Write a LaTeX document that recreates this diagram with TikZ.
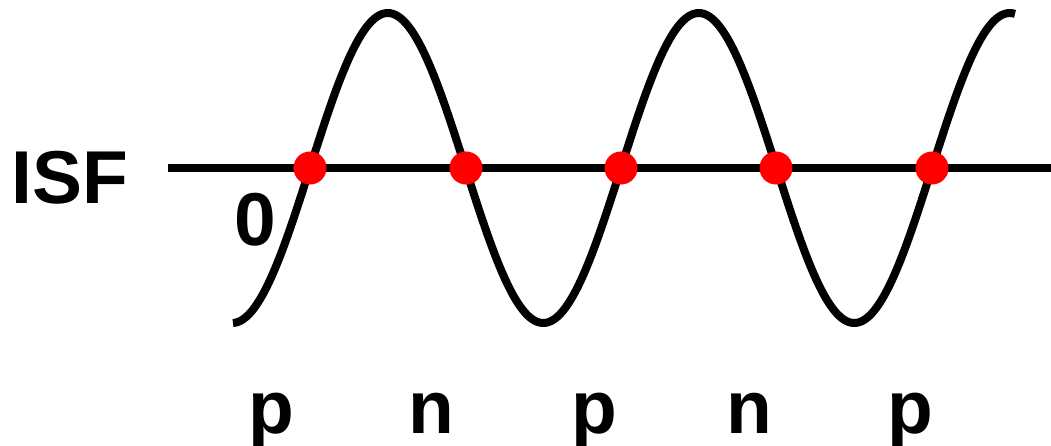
\documentclass[tikz,border=0pt]{standalone}
\usepackage{fontspec}
\setmainfont{Liberation Sans}
\begin{document}
\begin{tikzpicture}[x=0.01cm,y=-0.01cm,
  lbl/.style={inner sep=0pt,anchor=base,font=\fontsize{21.3}{25}\selectfont\bfseries},
  wave/.style={line width=0.08cm},
  dot/.style={circle,fill=red,inner sep=0pt,minimum size=0.33cm}]
\useasboundingbox (0,0) rectangle (1051,445);
\coordinate (ax0) at (168,168);
\coordinate (ax1) at (1051,168);
\draw[wave] (ax0) -- (ax1);
\draw[wave,samples=300,domain=233:1015] plot (\x,{168-155*sin((\x-310)/311*360)});
\foreach \i/\xx in {1/310,2/466,3/621,4/776,5/932}
  \node[dot] (d\i) at (\xx,168) {};
\node[lbl] (isf) at (70,203) {ISF};
\node[lbl] (zero) at (255,245) {0};
\node[lbl] (l1) at (271,433) {p};
\node[lbl] (l2) at (431,433) {n};
\node[lbl] (l3) at (594,433) {p};
\node[lbl] (l4) at (749,433) {n};
\node[lbl] (l5) at (910,433) {p};
\end{tikzpicture}
\end{document}
